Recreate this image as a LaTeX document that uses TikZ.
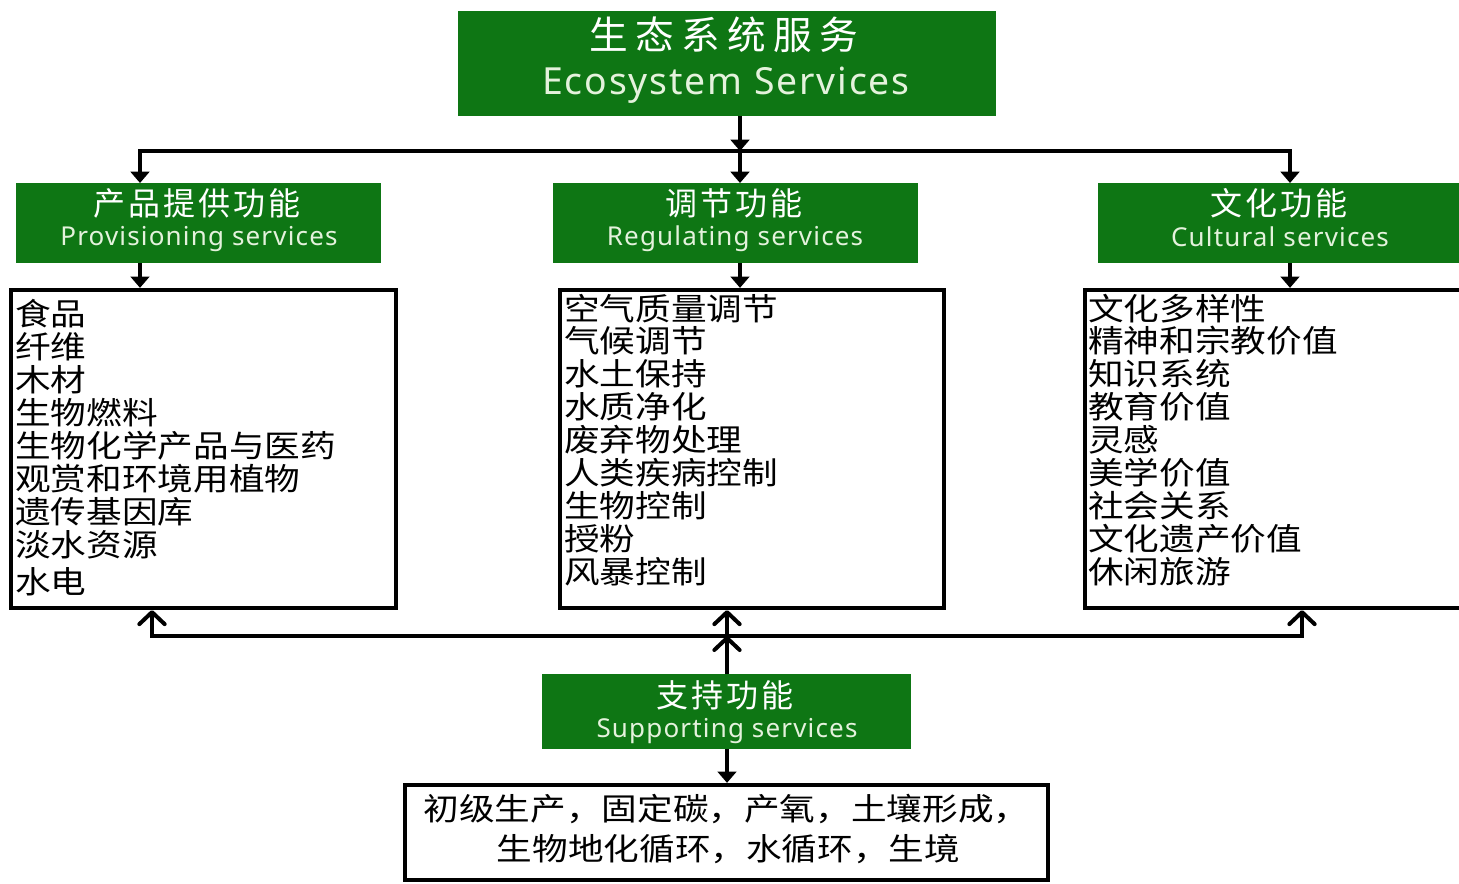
\documentclass[tikz,border=0pt]{standalone}
\usepackage{fontspec}
\setmainfont{Noto Sans}
\newfontfamily\zhlist[FakeStretch=1.15]{Noto Sans CJK SC}
\newfontfamily\zhtitlefont[LetterSpace=19]{Noto Sans CJK SC}
\newfontfamily\zhheadfont[LetterSpace=10]{Noto Sans CJK SC}
\newfontfamily\entitlefont[LetterSpace=5]{Noto Sans}
\newfontfamily\enheadfont[LetterSpace=4.5]{Noto Sans}
\usetikzlibrary{arrows.meta,fit}
\definecolor{esgreen}{RGB}{14,118,20}
\definecolor{enwhite}{RGB}{228,242,220}
\begin{document}
\begin{tikzpicture}[x=0.75pt,y=-0.75pt,
  greenbox/.style={fill=esgreen, inner sep=0pt, outer sep=0pt},
  listbox/.style={draw=black, line width=3.2pt, inner sep=0pt},
  downarr/.style={line width=3pt, -{Triangle[length=8.5pt,width=14pt]}},
  uparr/.style={line width=3pt, -{Straight Barb[length=9pt,width=19pt,round]}},
  zhtitle/.style={text=white, font=\zhtitlefont\fontsize{29pt}{34pt}\selectfont, inner sep=0pt},
  entitle/.style={text=enwhite, font=\entitlefont\fontsize{28pt}{34pt}\selectfont, inner sep=0pt, anchor=base},
  zhhead/.style={text=white, font=\zhheadfont\fontsize{24pt}{28pt}\selectfont, inner sep=0pt},
  enhead/.style={text=enwhite, font=\enheadfont\fontsize{19.5pt}{24pt}\selectfont, inner sep=0pt, anchor=base},
  listtxt/.style={text=black, font=\zhlist\fontsize{23.25pt}{24.75pt}\selectfont, inner sep=0pt, anchor=base west},
  bottxt/.style={text=black, font=\zhlist\fontsize{23.25pt}{24.75pt}\selectfont, inner sep=0pt, anchor=base}
]
\useasboundingbox (0,0) rectangle (1459,883);
\fill[white] (0,0) rectangle (1459,883);

% green header boxes
\node[greenbox, fit={(458,11) (996,116)}] (top) {};
\node[zhtitle] (topzh) at (724,35) {生态系统服务};
\node[entitle] (topen) at (726,94) {Ecosystem Services};

\node[greenbox, fit={(16,183) (381,263)}] (prov) {};
\node[zhhead] (provzh) at (197,203) {产品提供功能};
\node[enhead] (proven) at (199,245) {Provisioning services};

\node[greenbox, fit={(553,183) (918,263)}] (reg) {};
\node[zhhead] (regzh) at (734,203) {调节功能};
\node[enhead] (regen) at (735,245) {Regulating services};

\node[greenbox, fit={(1098,183) (1462,263)}] (cult) {};
\node[zhhead] (cultzh) at (1279,203) {文化功能};
\node[enhead] (culten) at (1280,246) {Cultural services};

\node[greenbox, fit={(542,674) (911,749)}] (sup) {};
\node[zhhead] (supzh) at (725,695) {支持功能};
\node[enhead] (supen) at (727,737) {Supporting services};

% list boxes
\node[listbox, fit={(11,290) (396,608)}] (plist) {};
\node[listbox, fit={(560,290) (944,608)}] (mlist) {};
\node[listbox, fit={(1085,290) (1480,608)}] (rlist) {};
\node[listbox, fit={(405,785) (1048,880)}] (bot) {};

\foreach \t [count=\i] in {食品,纤维,木材,生物燃料,生物化学产品与医药,观赏和环境用植物,遗传基因库,淡水资源}
  \node[listtxt] (pl\i) at (15,325+33*\i-33) {\t};
\node[listtxt] (pl9) at (15,593) {水电};

\foreach \t [count=\i] in {空气质量调节,气候调节,水土保持,水质净化,废弃物处理,人类疾病控制,生物控制,授粉,风暴控制}
  \node[listtxt] (ml\i) at (564,320+32.9*\i-32.9) {\t};

\foreach \t [count=\i] in {文化多样性,精神和宗教价值,知识系统,教育价值,灵感,美学价值,社会关系,文化遗产价值,休闲旅游}
  \node[listtxt] (rl\i) at (1088,320+32.9*\i-32.9) {\t};

\node[bottxt] (bt1) at (726.5,820) {初级生产，固定碳，产氧，土壤形成，};
\node[bottxt] (bt2) at (728.5,860) {生物地化循环，水循环，生境};

% top connectors
\coordinate (hL) at (140,151);
\coordinate (hM) at (740,151);
\coordinate (hR) at (1290,151);
\draw[downarr] (top.south -| hM) -- (hM);
\draw[downarr] (hM) -| (prov.north -| hL);
\draw[downarr] (hM) -| (cult.north -| hR);
\draw[downarr] (hM) -- (reg.north -| hM);

\draw[downarr] (prov.south -| hL) -- (plist.north -| hL);
\draw[downarr] (reg.south -| hM) -- (mlist.north -| hM);
\draw[downarr] (cult.south -| hR) -- (rlist.north -| hR);

% bottom connectors
\coordinate (bL) at (152,636);
\coordinate (bM) at (727,636);
\coordinate (bR) at (1302,636);
\draw[uparr] (bM) -| (plist.south -| bL);
\draw[uparr] (bM) -| (rlist.south -| bR);
\draw[uparr] (bM) -- (mlist.south -| bM);
\draw[uparr] (sup.north -| bM) -- (bM);
\draw[downarr] (sup.south -| bM) -- (bot.north -| bM);
\end{tikzpicture}
\end{document}
